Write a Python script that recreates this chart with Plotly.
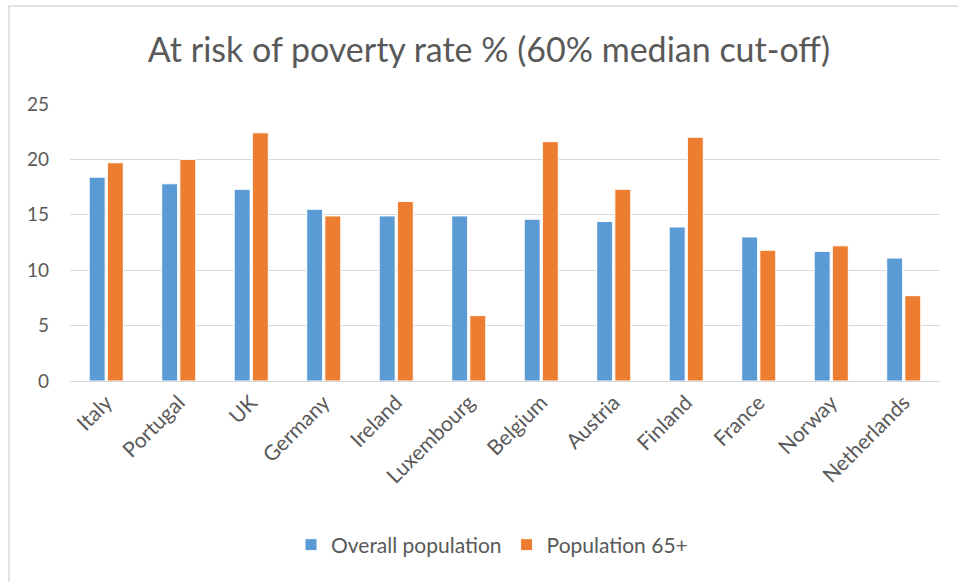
import plotly.graph_objects as go

countries = ["Italy", "Portugal", "UK", "Germany", "Ireland", "Luxembourg",
             "Belgium", "Austria", "Finland", "France", "Norway", "Netherlands"]
overall = [18.4, 17.8, 17.3, 15.5, 14.9, 14.9, 14.6, 14.4, 13.9, 13.0, 11.7, 11.1]
over65 = [19.7, 20.0, 22.4, 14.9, 16.2, 5.9, 21.6, 17.3, 22.0, 11.8, 12.2, 7.7]
yticks = [0, 5, 10, 15, 20, 25]

W, H = 958, 582
L, R, T, B = 70, 18, 104, 201
pw = W - L - R
ph = H - T - B

fig = go.Figure()
fig.add_trace(go.Bar(x=countries, y=overall, name="Overall population",
                     marker=dict(color="#5B9BD5", line=dict(color="#ffffff", width=1))))
fig.add_trace(go.Bar(x=countries, y=over65, name="Population 65+",
                     marker=dict(color="#ED7D31", line=dict(color="#ffffff", width=1))))

font_fam = "Lato, 'Open Sans', sans-serif"
fig.update_layout(
    width=W, height=H,
    margin=dict(l=L, r=R, t=T, b=B, pad=0),
    paper_bgcolor="white", plot_bgcolor="white",
    barmode="group", bargap=0.5, bargroupgap=0.12,
    title=dict(text="At risk of poverty rate % (60% median cut-off)",
               x=(489 - L) / pw, xref="paper", xanchor="center",
               y=1 - 50 / H, yref="container", yanchor="middle",
               font=dict(family=font_fam, size=34, color="#595959")),
    font=dict(family=font_fam, color="#595959"),
    showlegend=True,
    legend=dict(orientation="h", x=(492 - L) / pw, xanchor="center",
                y=-(545 - (T + ph)) / ph, yanchor="middle",
                font=dict(size=21, color="#595959"),
                itemwidth=30, traceorder="normal"),
    xaxis=dict(tickangle=-45, tickfont=dict(size=21, color="#595959"),
               showline=True, linecolor="#D9D9D9", linewidth=1,
               showgrid=False, ticks=""),
    yaxis=dict(range=[0, 25], tickvals=yticks, tickfont=dict(size=19, color="#595959"),
               showgrid=True, gridcolor="#D9D9D9", gridwidth=1,
               zeroline=False, showline=False, ticks="", ticklabelstandoff=20),
)

# outer chart border (left and top visible)
fig.add_shape(type="rect", xref="paper", yref="paper",
              x0=(9 - L) / pw, x1=(W + 20 - L) / pw,
              y0=-(H + 20 - (T + ph)) / ph, y1=1 + (T - 6) / ph,
              line=dict(color="#D9D9D9", width=1.5), layer="below")

fig.write_html("out.html")
